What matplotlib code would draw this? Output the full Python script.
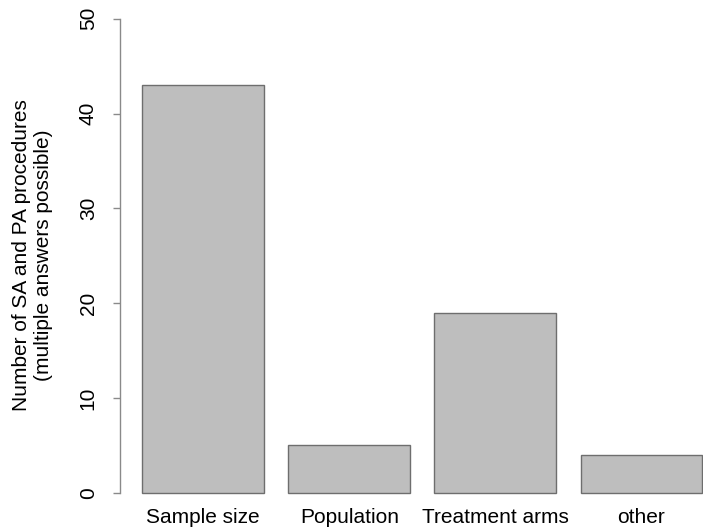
import matplotlib
matplotlib.use("Agg")
import matplotlib.pyplot as plt
import numpy as np

categories = ["Sample size", "Population", "Treatment arms", "other"]
values = [43, 5, 19, 4]
yticks = [0, 10, 20, 30, 40, 50]
ylabel = "Number of SA and PA procedures\n(multiple answers possible)"

plt.rcParams['font.family'] = ['Liberation Sans', 'DejaVu Sans']

W, H = 703, 528
fig = plt.figure(figsize=(W / 100, H / 100), dpi=100)

# R barplot geometry: width 1, space 0.2
width = 1.0
space = 0.2
lefts = np.array([space + i * (width + space) for i in range(len(values))])
centers = lefts + width / 2
xlo, xhi = lefts[0], lefts[-1] + width
xr = (xhi - xlo) * 0.04
xlim = (xlo - xr, xhi + xr)
ylim = (-2, 52)

px_per_x = 121.7
px_per_y = 9.48
ax_left_px = 120
ax_bottom_px = 511.7
ax_w_px = (xlim[1] - xlim[0]) * px_per_x
ax_h_px = (ylim[1] - ylim[0]) * px_per_y
ax = fig.add_axes([ax_left_px / W, (H - ax_bottom_px) / H, ax_w_px / W, ax_h_px / H])

ax.bar(lefts, values, width=width, align='edge', color='#bebebe',
       edgecolor='#6e6e6e', linewidth=1.0)
ax.set_xlim(*xlim)
ax.set_ylim(*ylim)

for s in ['top', 'right', 'bottom']:
    ax.spines[s].set_visible(False)
ax.spines['left'].set_bounds(yticks[0], yticks[-1])
ax.spines['left'].set_color('#8a8a8a')
ax.spines['left'].set_linewidth(1.0)

ax.set_yticks(yticks)
ax.set_yticklabels([str(v) for v in yticks], rotation=90, va='center')
ax.tick_params(axis='y', length=5, width=1.0, color='#8a8a8a', pad=11,
               labelsize=15, labelcolor='black')

ax.set_xticks(centers)
ax.set_xticklabels(categories)
ax.tick_params(axis='x', length=0, pad=4.5, labelsize=15)
for t in ax.get_xticklabels():
    t.set_va('center')

fig.text(33 / W, (H - 255) / H, ylabel, rotation=90, ha='center', va='center',
         multialignment='center', fontsize=15, linespacing=1.2)

fig.savefig("out.png", dpi=100)
